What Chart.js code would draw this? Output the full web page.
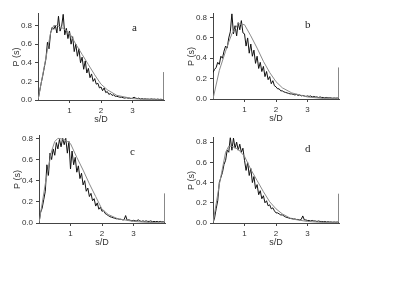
<!DOCTYPE html>
<html>
<head>
<meta charset="utf-8">
<script src="https://cdn.jsdelivr.net/npm/chart.js@4.4.1/dist/chart.umd.min.js"></script>
<style>
body{margin:0;background:#fff;}
#wrap{position:relative;width:400px;height:300px;overflow:hidden;background:#fff;}
canvas{position:absolute;}
.tag{position:absolute;font-family:'Liberation Serif','Times New Roman',serif;font-size:11px;color:#222;line-height:1;}
</style>
</head>
<body>
<div id="wrap"></div>
<script>
// bin centres of the spacing histogram (last two = the overflow bar at s/D = 4)
const binS = [0.00,0.05,0.10,0.15,0.20,0.25,0.30,0.35,0.40,0.45,
  0.50,0.55,0.60,0.65,0.70,0.75,0.80,0.85,0.90,0.95,
  1.00,1.05,1.10,1.15,1.20,1.25,1.30,1.35,1.40,1.45,
  1.50,1.55,1.60,1.65,1.70,1.75,1.80,1.85,1.90,1.95,
  2.00,2.05,2.10,2.15,2.20,2.25,2.30,2.35,2.40,2.45,
  2.50,2.55,2.60,2.65,2.70,2.75,2.80,2.85,2.90,2.95,
  3.00,3.05,3.10,3.15,3.20,3.25,3.30,3.35,3.40,3.45,
  3.50,3.55,3.60,3.65,3.70,3.75,3.80,3.85,3.90,3.95,
  4.00,4.00];
const fitS = [0,0.2,0.4,0.5,0.6,0.8,1.0,1.2,1.4,1.6,1.8,2.0,2.2,2.5,3.0,3.5,4.0];

const histA = [0.00,0.09,0.18,0.26,0.35,0.44,0.62,0.55,0.72,0.78,
  0.76,0.80,0.72,0.90,0.74,0.79,0.92,0.70,0.77,0.66,
  0.74,0.60,0.68,0.52,0.60,0.47,0.55,0.40,0.46,0.33,
  0.42,0.29,0.34,0.24,0.28,0.20,0.23,0.17,0.18,0.13,
  0.14,0.10,0.13,0.08,0.09,0.06,0.07,0.05,0.055,0.04,
  0.04,0.035,0.03,0.03,0.025,0.02,0.025,0.02,0.02,0.015,
  0.02,0.03,0.02,0.015,0.02,0.01,0.015,0.01,0.012,0.01,
  0.01,0.008,0.012,0.008,0.01,0.006,0.01,0.006,0.008,0.005,
  0.0,0.30];
const fitA = [0,0.36,0.72,0.80,0.80,0.77,0.72,0.60,0.49,0.38,0.27,0.17,0.11,0.05,0.015,0.004,0];

const histB = [0.26,0.29,0.31,0.36,0.34,0.42,0.40,0.47,0.52,0.50,
  0.60,0.66,0.84,0.64,0.72,0.62,0.75,0.68,0.77,0.65,
  0.64,0.52,0.60,0.45,0.54,0.42,0.48,0.35,0.42,0.30,
  0.36,0.27,0.32,0.22,0.27,0.19,0.22,0.15,0.18,0.13,
  0.12,0.10,0.10,0.08,0.08,0.07,0.065,0.06,0.055,0.05,
  0.05,0.045,0.04,0.045,0.035,0.04,0.03,0.035,0.03,0.025,
  0.03,0.025,0.03,0.02,0.025,0.02,0.02,0.015,0.02,0.015,
  0.015,0.01,0.015,0.01,0.012,0.01,0.008,0.01,0.008,0.01,
  0.0,0.31];
const fitB = [0,0.28,0.47,0.56,0.64,0.74,0.73,0.62,0.50,0.37,0.26,0.17,0.11,0.06,0.02,0.005,0];

const histC = [0.00,0.10,0.14,0.22,0.30,0.55,0.45,0.66,0.60,0.70,
  0.64,0.76,0.70,0.79,0.72,0.80,0.74,0.80,0.66,0.77,
  0.51,0.68,0.55,0.62,0.48,0.54,0.42,0.47,0.36,0.40,
  0.30,0.33,0.25,0.28,0.21,0.23,0.16,0.19,0.13,0.15,
  0.11,0.12,0.09,0.08,0.07,0.06,0.055,0.05,0.045,0.04,
  0.04,0.035,0.035,0.03,0.03,0.07,0.025,0.03,0.025,0.02,
  0.025,0.02,0.02,0.03,0.02,0.015,0.02,0.015,0.02,0.015,
  0.015,0.02,0.012,0.015,0.012,0.015,0.01,0.015,0.01,0.012,
  0.0,0.28];
const fitC = [0,0.37,0.68,0.77,0.80,0.79,0.75,0.62,0.50,0.37,0.25,0.13,0.08,0.04,0.015,0.005,0];

const histD = [0.00,0.05,0.14,0.22,0.40,0.45,0.50,0.58,0.62,0.72,
  0.70,0.85,0.72,0.84,0.74,0.80,0.72,0.78,0.70,0.74,
  0.62,0.52,0.60,0.47,0.54,0.40,0.46,0.34,0.38,0.28,
  0.32,0.24,0.27,0.20,0.22,0.17,0.18,0.14,0.15,0.12,
  0.10,0.10,0.09,0.08,0.08,0.07,0.06,0.055,0.05,0.045,
  0.045,0.04,0.04,0.035,0.035,0.03,0.035,0.07,0.03,0.03,
  0.025,0.025,0.02,0.025,0.02,0.02,0.015,0.02,0.015,0.015,
  0.012,0.015,0.01,0.012,0.01,0.01,0.008,0.01,0.008,0.01,
  0.0,0.29];
const fitD = [0,0.38,0.70,0.76,0.76,0.73,0.66,0.53,0.42,0.31,0.21,0.14,0.09,0.04,0.015,0.005,0];

const yTicks = [0,0.2,0.4,0.6,0.8];
const xTicks = [1,2,3];

// plot boxes measured on the reference (pixels)
const panels = [
  {tag:'a', hist:histA, fit:fitA, left:38,  right:164, top:12,  bottom:100, yMax:0.926, tx:132, ty:22},
  {tag:'b', hist:histB, fit:fitB, left:213, right:339, top:12,  bottom:99,  yMax:0.837, tx:305, ty:19},
  {tag:'c', hist:histC, fit:fitC, left:39,  right:165, top:134, bottom:223, yMax:0.824, tx:130, ty:146},
  {tag:'d', hist:histD, fit:fitD, left:213, right:339, top:136, bottom:223, yMax:0.843, tx:305, ty:143}
];

const wrap = document.getElementById('wrap');
const tickFont = {family:"'Liberation Sans', Arial, sans-serif", size:8};
const titleFont = {family:"'Liberation Sans', Arial, sans-serif", size:9};

panels.forEach(p => {
  const cv = document.createElement('canvas');
  const cl = p.left - 40, ct = p.top - 6;
  const w = p.right + 8 - cl, h = p.bottom + 30 - ct;
  cv.width = w; cv.height = h;
  cv.style.left = cl + 'px'; cv.style.top = ct + 'px';
  cv.style.width = w + 'px'; cv.style.height = h + 'px';
  wrap.appendChild(cv);

  const tag = document.createElement('div');
  tag.className = 'tag';
  tag.textContent = p.tag;
  tag.style.left = p.tx + 'px'; tag.style.top = p.ty + 'px';
  wrap.appendChild(tag);

  new Chart(cv.getContext('2d'), {
    type: 'line',
    data: {
      datasets: [
        {data: fitS.map((s,i)=>({x:s,y:p.fit[i]})), borderColor:'#8a8a8a', borderWidth:1, pointRadius:0, tension:0},
        {data: binS.map((s,i)=>({x:s,y:p.hist[i]})), borderColor:'#111', borderWidth:1, pointRadius:0, tension:0}
      ]
    },
    options: {
      responsive:false, animation:false, events:[],
      layout:{padding:{left:0, top:6, right:8, bottom:0}},
      plugins:{legend:{display:false}, tooltip:{enabled:false}},
      scales:{
        x:{
          type:'linear', min:0, max:4,
          afterFit: s => { s.height = 30; },
          afterBuildTicks: s => { s.ticks = xTicks.map(v=>({value:v})); },
          grid:{drawOnChartArea:false, tickLength:3, color:'#444'},
          border:{color:'#444', width:1},
          ticks:{font:tickFont, color:'#333', padding:3, maxRotation:0, callback:v=>String(v)},
          title:{display:true, text:'s/D', font:titleFont, color:'#333', padding:{top:0,bottom:5}}
        },
        y:{
          min:0, max:p.yMax,
          afterFit: s => { s.width = 40; },
          afterBuildTicks: s => { s.ticks = yTicks.map(v=>({value:v})); },
          grid:{drawOnChartArea:false, tickLength:3, color:'#444'},
          border:{color:'#444', width:1},
          ticks:{font:tickFont, color:'#333', padding:3, callback:v=>v.toFixed(1)},
          title:{display:true, text:'P (s)', font:titleFont, color:'#333', padding:{top:13,bottom:0}}
        }
      }
    }
  });
});
</script>
</body>
</html>
